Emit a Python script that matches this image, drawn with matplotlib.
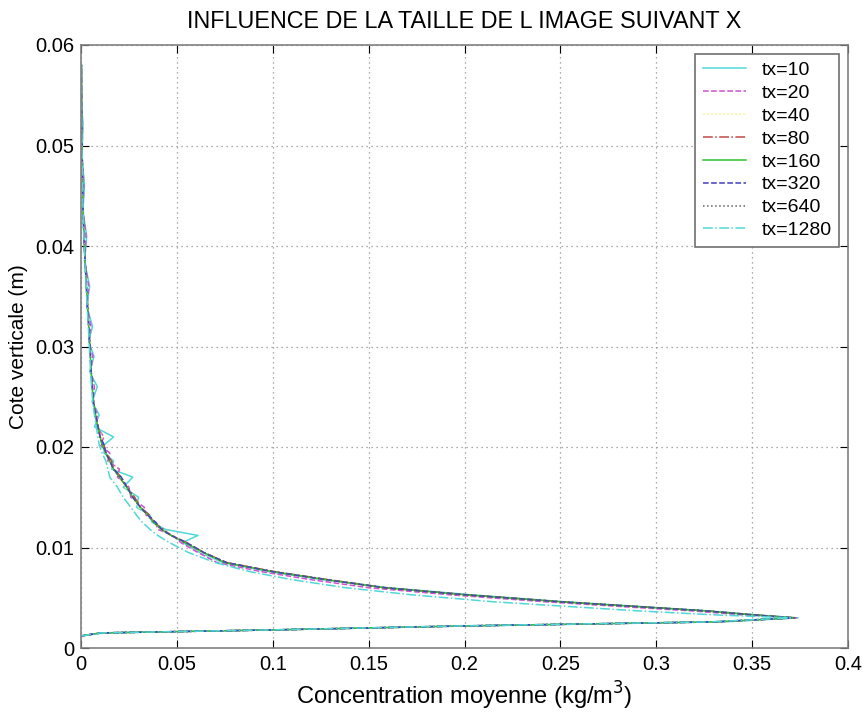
import matplotlib
matplotlib.use("Agg")
import matplotlib.pyplot as plt
from matplotlib.ticker import FormatStrFormatter, FixedLocator

plt.rcParams['font.family'] = ['Liberation Sans', 'DejaVu Sans']

# shared heights (m)
z = [0.0012, 0.0015, 0.0018, 0.0022, 0.0026, 0.0030, 0.0033, 0.0037, 0.0040, 0.0046,
     0.0053, 0.0060, 0.0068, 0.0076, 0.0085, 0.0095, 0.0105, 0.0112, 0.0118, 0.0125,
     0.0132, 0.0140, 0.0150, 0.0160, 0.0170, 0.0178, 0.0186, 0.0194, 0.0202, 0.0210,
     0.0220, 0.0232, 0.0245, 0.0260, 0.0275, 0.0290, 0.0305, 0.0320, 0.0340, 0.0360,
     0.0385, 0.0410, 0.0435, 0.0460, 0.0490, 0.0520, 0.0550, 0.0580]

labels = ['tx=10', 'tx=20', 'tx=40', 'tx=80', 'tx=160', 'tx=320', 'tx=640', 'tx=1280']

c_tx10 = [0.000, 0.012, 0.100, 0.205, 0.335, 0.374, 0.352, 0.327, 0.302, 0.252,
          0.203, 0.160, 0.126, 0.098, 0.074, 0.062, 0.053, 0.061, 0.044, 0.037,
          0.036, 0.029, 0.030, 0.022, 0.027, 0.016, 0.017, 0.012, 0.012, 0.017,
          0.0070, 0.0095, 0.0058, 0.0085, 0.0045, 0.0068, 0.0040, 0.0060, 0.0030, 0.0045,
          0.0018, 0.0030, 0.0009, 0.0018, 0.0005, 0.0010, 0.0002, 0.0004]
c_tx20 = [0.000, 0.011, 0.100, 0.202, 0.332, 0.373, 0.345, 0.318, 0.292, 0.242,
          0.192, 0.150, 0.120, 0.094, 0.071, 0.061, 0.052, 0.048, 0.040, 0.039,
          0.034, 0.033, 0.026, 0.025, 0.019, 0.020, 0.014, 0.015, 0.010, 0.012,
          0.0082, 0.0085, 0.0062, 0.0070, 0.0050, 0.0062, 0.0040, 0.0052, 0.0032, 0.0040,
          0.0020, 0.0026, 0.0011, 0.0015, 0.0006, 0.0008, 0.0003, 0.0002]
c_tx40 = [0.000, 0.010, 0.100, 0.201, 0.331, 0.372, 0.349, 0.324, 0.299, 0.249,
          0.199, 0.157, 0.127, 0.099, 0.075, 0.063, 0.054, 0.048, 0.041, 0.038,
          0.035, 0.030, 0.027, 0.023, 0.020, 0.018, 0.015, 0.013, 0.011, 0.011,
          0.0088, 0.0078, 0.0064, 0.0060, 0.0052, 0.0050, 0.0044, 0.0041, 0.0034, 0.0029,
          0.0021, 0.0016, 0.0011, 0.0009, 0.0006, 0.0004, 0.0003, 0.0002]
c_tx80 = [0.000, 0.010, 0.100, 0.200, 0.330, 0.372, 0.351, 0.326, 0.301, 0.251,
          0.201, 0.159, 0.129, 0.101, 0.076, 0.064, 0.055, 0.047, 0.043, 0.038,
          0.036, 0.031, 0.028, 0.024, 0.021, 0.017, 0.016, 0.013, 0.012, 0.010,
          0.0090, 0.0075, 0.0066, 0.0058, 0.0054, 0.0049, 0.0046, 0.0040, 0.0035, 0.0028,
          0.0022, 0.0015, 0.0012, 0.0008, 0.0006, 0.0004, 0.0003, 0.0002]
c_tx160 = [0.000, 0.010, 0.100, 0.200, 0.330, 0.372, 0.350, 0.325, 0.300, 0.250,
           0.200, 0.158, 0.128, 0.100, 0.075, 0.064, 0.054, 0.047, 0.042, 0.038,
           0.035, 0.031, 0.027, 0.024, 0.020, 0.017, 0.015, 0.013, 0.011, 0.0100,
           0.0088, 0.0075, 0.0065, 0.0058, 0.0053, 0.0049, 0.0045, 0.0040, 0.0034, 0.0028,
           0.0021, 0.0015, 0.0011, 0.0008, 0.0006, 0.0004, 0.0003, 0.0002]
c_tx320 = [0.000, 0.010, 0.100, 0.200, 0.330, 0.371, 0.350, 0.325, 0.300, 0.250,
           0.200, 0.158, 0.128, 0.100, 0.076, 0.064, 0.055, 0.047, 0.042, 0.039,
           0.035, 0.031, 0.027, 0.024, 0.021, 0.017, 0.015, 0.013, 0.012, 0.0100,
           0.0089, 0.0076, 0.0065, 0.0059, 0.0053, 0.0049, 0.0045, 0.0040, 0.0034, 0.0028,
           0.0021, 0.0015, 0.0011, 0.0008, 0.0006, 0.0004, 0.0003, 0.0002]
c_tx640 = [0.000, 0.010, 0.100, 0.200, 0.330, 0.372, 0.350, 0.325, 0.300, 0.250,
           0.200, 0.158, 0.128, 0.100, 0.075, 0.064, 0.054, 0.047, 0.042, 0.038,
           0.035, 0.031, 0.027, 0.024, 0.020, 0.017, 0.015, 0.013, 0.011, 0.0100,
           0.0088, 0.0075, 0.0065, 0.0058, 0.0053, 0.0049, 0.0045, 0.0040, 0.0034, 0.0028,
           0.0021, 0.0015, 0.0011, 0.0008, 0.0006, 0.0004, 0.0003, 0.0002]
c_tx1280 = [0.000, 0.010, 0.098, 0.198, 0.328, 0.370, 0.330, 0.290, 0.265, 0.215,
            0.172, 0.138, 0.110, 0.088, 0.070, 0.056, 0.046, 0.040, 0.036, 0.032,
            0.029, 0.026, 0.022, 0.019, 0.015, 0.014, 0.013, 0.011, 0.0095, 0.0088,
            0.0080, 0.0070, 0.0061, 0.0055, 0.0050, 0.0046, 0.0042, 0.0038, 0.0032, 0.0027,
            0.0020, 0.0015, 0.0011, 0.0008, 0.0006, 0.0004, 0.0003, 0.0002]

series = [c_tx10, c_tx20, c_tx40, c_tx80, c_tx160, c_tx320, c_tx640, c_tx1280]
colors = ['#50d8d8', '#d050d0', '#f8f880', '#c04848', '#30c030', '#4040c0', '#606060', '#50d8d8']
styles = ['-', '--', ':', '-.', '-', '--', ':', '-.']

xticks = [0, 0.05, 0.1, 0.15, 0.2, 0.25, 0.3, 0.35, 0.4]
yticks = [0, 0.01, 0.02, 0.03, 0.04, 0.05, 0.06]

fig = plt.figure(figsize=(8.66, 7.14), dpi=100)
ax = fig.add_axes([81/866, 1 - 648/714, 767/866, 603/714])

for c, lab, col, ls in zip(series, labels, colors, styles):
    ax.plot(c, z, color=col, linestyle=ls, linewidth=1.1, label=lab)

ax.set_xlim(0, 0.4)
ax.set_ylim(0, 0.06)
ax.xaxis.set_major_locator(FixedLocator(xticks))
ax.yaxis.set_major_locator(FixedLocator(yticks))
ax.xaxis.set_major_formatter(FormatStrFormatter('%g'))
ax.yaxis.set_major_formatter(FormatStrFormatter('%g'))
ax.grid(True, linestyle=(0, (1, 3)), color='#909090', linewidth=0.9)
ax.tick_params(direction='in', length=6, labelsize=14.5, colors='#000000',
               top=True, right=True, pad=5)
for s in ax.spines.values():
    s.set_color('#808080')
    s.set_linewidth(1.2)

ax.set_title('INFLUENCE DE LA TAILLE DE L IMAGE SUIVANT X', fontsize=16.8, pad=12)
ax.set_xlabel('Concentration moyenne (kg/m$^3$)', fontsize=17, labelpad=4)
ax.set_ylabel('Cote verticale (m)', fontsize=15, labelpad=5)

leg = ax.legend(loc='upper right', fontsize=14, frameon=True, fancybox=False,
                edgecolor='#707070', framealpha=1, handlelength=2.2,
                labelspacing=0.27, borderaxespad=0.45, borderpad=0.4, handletextpad=0.8)
leg.get_frame().set_linewidth(1.2)

fig.savefig('out.png', dpi=100)
